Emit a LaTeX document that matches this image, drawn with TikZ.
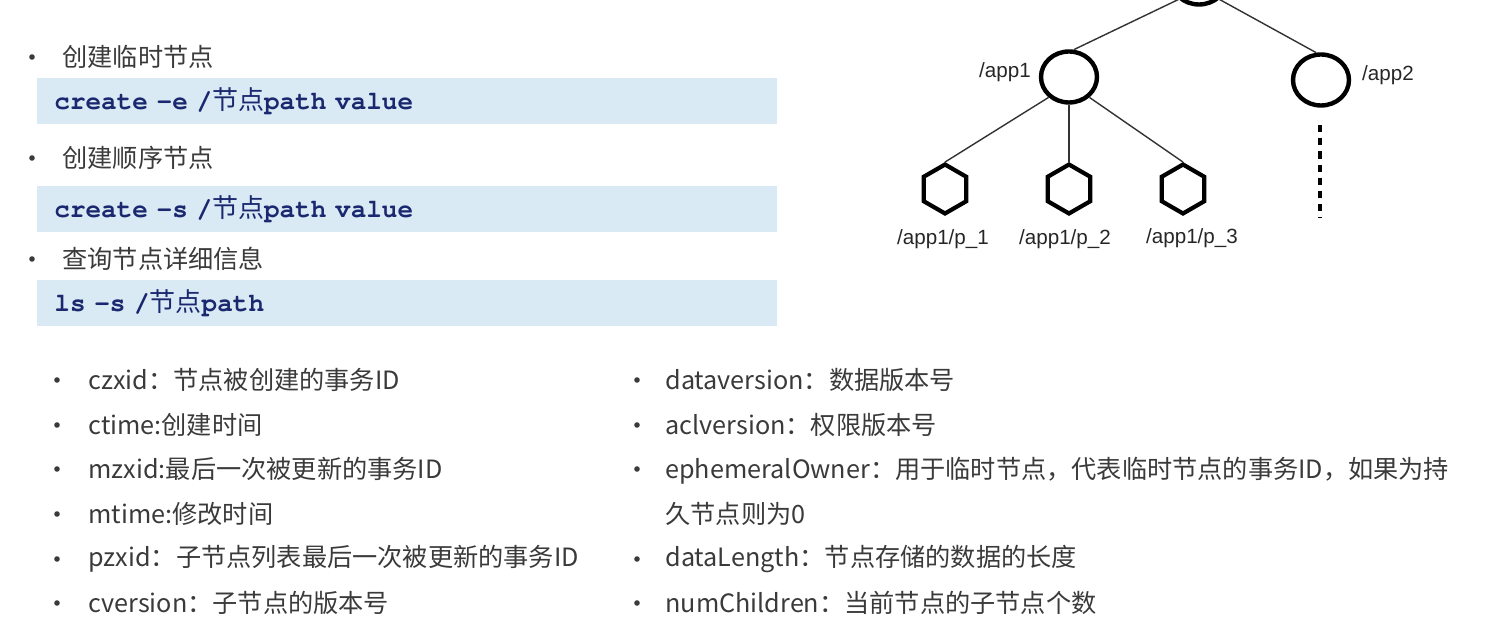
\documentclass[tikz,border=0pt]{standalone}
\usepackage{fontspec}
\setmainfont{Noto Sans CJK SC}
\newfontfamily\cjk{Noto Sans CJK SC}
\newfontfamily\codefont{TeX Gyre Cursor}
\newfontfamily\treefont{Liberation Sans}
\usetikzlibrary{positioning,shapes.geometric}
\definecolor{textgray}{RGB}{58,58,58}
\definecolor{codebg}{RGB}{218,234,244}
\definecolor{codeblue}{RGB}{26,40,112}
\definecolor{edgegray}{RGB}{50,50,50}
\tikzset{
  toptext/.style={anchor=west,inner sep=0pt,text=textgray,font=\fontsize{12.6pt}{15pt}\selectfont},
  listtext/.style={anchor=west,inner sep=0pt,text=textgray,align=left,font=\fontsize{12.6pt}{22.3pt}\selectfont},
  bulletdot/.style={circle,fill=textgray,inner sep=0pt,minimum size=2.8pt},
  codebox/.style={anchor=west,fill=codebg,minimum height=23pt,text width=353pt,inner xsep=8.5pt,align=left,text=codeblue,font=\fontsize{13pt}{15pt}\selectfont\bfseries},
  treecircle/.style={ellipse,draw=black,line width=2.2pt,minimum width=28pt,minimum height=25.5pt,inner sep=0pt},
  treehex/.style={regular polygon,regular polygon sides=6,shape border rotate=30,draw=black,line width=2.1pt,minimum size=24.5pt,inner sep=0pt},
  treelabel/.style={inner sep=0pt,text=black!85,font=\treefont\fontsize{10.3pt}{12pt}\selectfont},
  edge/.style={draw=edgegray,line width=0.7pt},
  dotline/.style={draw=black,line width=2.4pt,dash pattern=on 3.6pt off 3pt}
}
\begin{document}
\begin{tikzpicture}[x=0.5pt,y=-0.5pt]
\useasboundingbox (0,0) rectangle (1489,640);
\clip (0,0) rectangle (1489,640);
% commands
\node[bulletdot] (b1) at (32,57) {};
\node[toptext] (t1) at (62,57) {创建临时节点};
\node[codebox] (box1) at (37,101) {{\codefont create -e /}{\cjk\mdseries 节点}{\codefont path value}};
\node[bulletdot] (b2) at (32,158) {};
\node[toptext] (t2) at (62,158) {创建顺序节点};
\node[codebox] (box2) at (37,209) {{\codefont create -s /}{\cjk\mdseries 节点}{\codefont path value}};
\node[bulletdot] (b3) at (32,259) {};
\node[toptext] (t3) at (62,259) {查询节点详细信息};
\node[codebox] (box3) at (37,303) {{\codefont ls -s /}{\cjk\mdseries 节点}{\codefont path}};
% tree
\node[treecircle] (root) at (1199,-21) {};
\node[treecircle] (app1) at (1069,77) {};
\node[treecircle] (app2) at (1321,80) {};
\node[treehex] (p1) at (945,189) {};
\node[treehex] (p2) at (1069,189) {};
\node[treehex] (p3) at (1183,189) {};
\draw[edge] (root.225) -- (app1.80);
\draw[edge] (root.315) -- (app2.100);
\draw[edge] (app1.225) -- (p1.north);
\draw[edge] (app1.south) -- (p2.north);
\draw[edge] (app1.-45) -- (p3.north);
\coordinate (dottop) at (1320,125);
\coordinate (dotbottom) at (1320,218);
\draw[dotline] (dottop) -- (dotbottom);
\node[treelabel] (lapp1) at (1005,72) {/app1};
\node[treelabel] (lapp2) at (1388,75) {/app2};
\node[treelabel] (lp1) at (943,239) {/app1/p\_1};
\node[treelabel] (lp2) at (1065,239) {/app1/p\_2};
\node[treelabel] (lp3) at (1192,238) {/app1/p\_3};
% node attributes, left column
\node[bulletdot] (lb1) at (57,380) {};
\node[listtext] (l1) at (88,380) {czxid：节点被创建的事务ID};
\node[bulletdot] (lb2) at (57,425) {};
\node[listtext] (l2) at (88,425) {ctime:创建时间};
\node[bulletdot] (lb3) at (57,469) {};
\node[listtext] (l3) at (88,469) {mzxid:最后一次被更新的事务ID};
\node[bulletdot] (lb4) at (57,514) {};
\node[listtext] (l4) at (88,514) {mtime:修改时间};
\node[bulletdot] (lb5) at (57,559) {};
\node[listtext] (l5) at (88,559) {pzxid：子节点列表最后一次被更新的事务ID};
\node[bulletdot] (lb6) at (57,603) {};
\node[listtext] (l6) at (88,603) {cversion：子节点的版本号};
% node attributes, right column
\node[bulletdot] (rb1) at (637,380) {};
\node[listtext] (r1) at (665,380) {dataversion：数据版本号};
\node[bulletdot] (rb2) at (637,425) {};
\node[listtext] (r2) at (665,425) {aclversion：权限版本号};
\node[bulletdot] (rb3) at (637,469) {};
\node[listtext] (r3) at (665,491.5) {ephemeralOwner：用于临时节点，代表临时节点的事务ID，如果为持\\久节点则为0};
\node[bulletdot] (rb4) at (637,559) {};
\node[listtext] (r4) at (665,559) {dataLength：节点存储的数据的长度};
\node[bulletdot] (rb5) at (637,603) {};
\node[listtext] (r5) at (665,603) {numChildren：当前节点的子节点个数};
\end{tikzpicture}
\end{document}
